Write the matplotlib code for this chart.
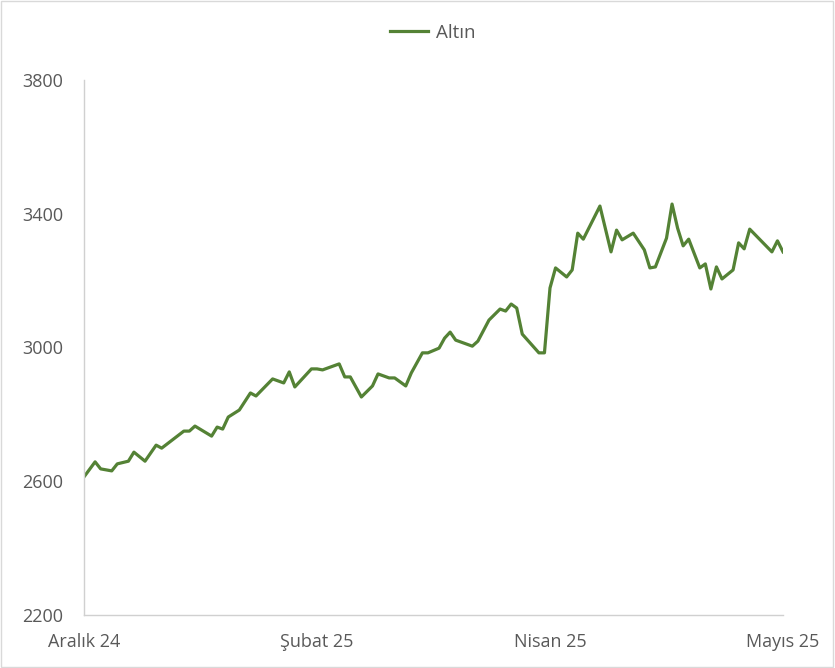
import matplotlib
matplotlib.use("Agg")
import matplotlib.pyplot as plt
from matplotlib.patches import Rectangle

# trading-day index (0 = start of Aralık 24) and gold price
days = [0, 2, 3, 5, 6, 8, 9, 11, 13, 14, 18, 19, 20, 23, 24, 25, 26, 28, 30, 31,
        34, 36, 37, 38, 41, 42, 43, 44, 46, 47, 48, 50, 52, 53, 55, 56, 58, 59, 61, 62,
        64, 65, 66, 67, 70, 71, 73, 75, 76, 77, 78, 79, 82, 83, 84, 85, 87, 88, 89, 90,
        93, 95, 96, 97, 99, 101, 102, 103, 105, 106, 107, 108, 109, 111, 112, 113, 114, 115, 117, 118,
        119, 120, 124, 125, 126]
prices = [2613, 2658, 2637, 2631, 2652, 2660, 2687, 2660, 2708, 2699, 2750, 2750, 2765, 2735, 2762, 2756, 2792, 2813, 2864, 2855,
          2906, 2894, 2927, 2882, 2936, 2936, 2933, 2939, 2951, 2912, 2912, 2852, 2885, 2921, 2909, 2909, 2885, 2924, 2984, 2984,
          2998, 3028, 3046, 3022, 3004, 3019, 3082, 3115, 3109, 3130, 3118, 3040, 2984, 2984, 3178, 3238, 3211, 3232, 3342, 3324,
          3423, 3286, 3351, 3322, 3342, 3292, 3238, 3241, 3327, 3429, 3357, 3304, 3324, 3238, 3250, 3175, 3241, 3205, 3232, 3313,
          3295, 3354, 3286, 3319, 3286]

tick_pos = [0, 42, 84, 126]
tick_labels = ["Aralık 24", "Şubat 25", "Nisan 25", "Mayıs 25"]
y_ticks = [2200, 2600, 3000, 3400, 3800]

plt.rcParams['font.family'] = ['Open Sans', 'DejaVu Sans']
txt = "#595959"

fig = plt.figure(figsize=(8.35, 6.68), dpi=100)
ax = fig.add_axes([84/835, 1 - 615/668, (783-84)/835, (615-80)/668])

line, = ax.plot(days, prices, color="#548235", linewidth=2.3, label="Altın",
                solid_joinstyle="round")

ax.set_xlim(0, 126)
ax.set_ylim(2200, 3800)
ax.set_yticks(y_ticks)
ax.set_xticks(tick_pos)
ax.set_xticklabels(tick_labels)
ax.tick_params(axis="both", length=0, colors=txt, labelsize=13)
ax.tick_params(axis="y", pad=15)
ax.tick_params(axis="x", pad=13)

for s in ["top", "right"]:
    ax.spines[s].set_visible(False)
for s in ["left", "bottom"]:
    ax.spines[s].set_color("#d0d0d0")
    ax.spines[s].set_linewidth(1)

fig.legend(handles=[line], loc="center", bbox_to_anchor=(433/835, 1 - 33/668),
           frameon=False, fontsize=13.5, labelcolor=txt, handlelength=2.0,
           handletextpad=0.45)

fig.patches.append(Rectangle((0.001, 0.001), 0.997, 0.997, transform=fig.transFigure,
                             fill=False, edgecolor="#d9d9d9", linewidth=1))

fig.savefig("out.png", dpi=100)
